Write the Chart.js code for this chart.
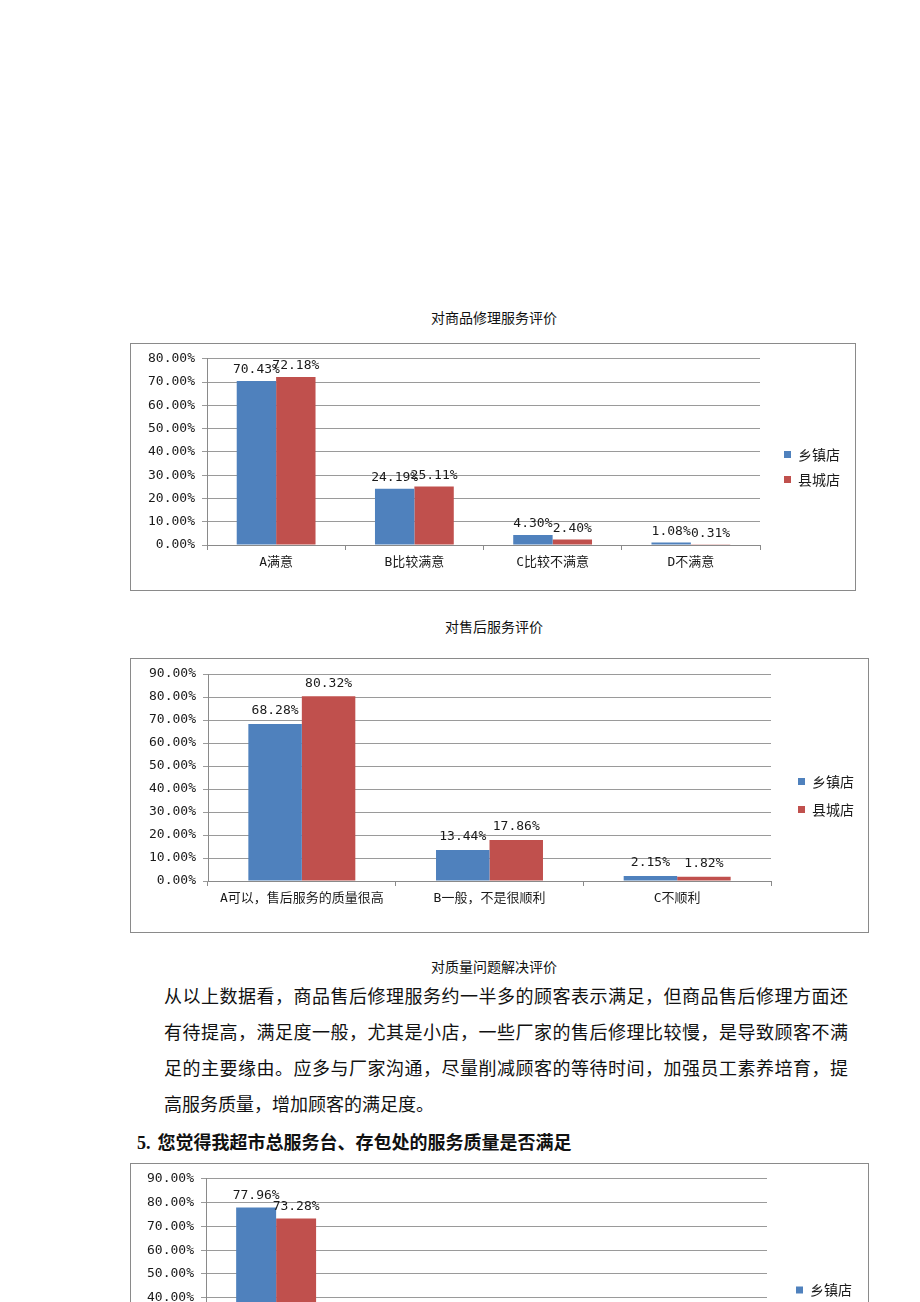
<!DOCTYPE html>
<html>
<head>
<meta charset="utf-8">
<script src="https://cdn.jsdelivr.net/npm/chart.js@4.4.0/dist/chart.umd.min.js"></script>
<style>
body { margin: 0; background: #fff; }
#page { position: relative; width: 920px; height: 1302px; overflow: hidden; background: #fff; font-family: "Noto Sans CJK SC", sans-serif; color: #111; }
.title { position: absolute; left: 0; width: 988px; text-align: center; font-size: 14px; line-height: 20px; }
.box { position: absolute; left: 130px; border: 1px solid #8a8a8a; }
.box canvas { display: block; }
.line { position: absolute; left: 164px; width: 684px; font-size: 18px; line-height: 24px; text-align: justify; text-align-last: justify; white-space: nowrap; }
.head { position: absolute; left: 137px; top: 1129px; font-size: 18px; line-height: 24px; font-weight: bold; }
.head b { font-family: "Liberation Serif", serif; margin-right: 7px; }
</style>
</head>
<body>
<div id="page">
	<div class="title" style="top:307px">对商品修理服务评价</div>
	<div class="box" style="top:343px;width:724px;height:246px"><canvas id="c1" width="724" height="246"></canvas></div>

	<div class="title" style="top:616px">对售后服务评价</div>
	<div class="box" style="top:658px;width:737px;height:273px"><canvas id="c2" width="737" height="273"></canvas></div>

	<div class="title" style="top:956px">对质量问题解决评价</div>
	<div class="line" style="top:983px">从以上数据看，商品售后修理服务约一半多的顾客表示满足，但商品售后修理方面还</div>
	<div class="line" style="top:1019px">有待提高，满足度一般，尤其是小店，一些厂家的售后修理比较慢，是导致顾客不满</div>
	<div class="line" style="top:1055px">足的主要缘由。应多与厂家沟通，尽量削减顾客的等待时间，加强员工素养培育，提</div>
	<div class="line" style="top:1091px;text-align-last:left;width:auto">高服务质量，增加顾客的满足度。</div>
	<div class="head"><b>5.</b>您觉得我超市总服务台、存包处的服务质量是否满足</div>
	<div class="box" style="top:1163px;width:737px;height:280px"><canvas id="c3" width="737" height="280"></canvas></div>
</div>
<script>
var seriesNames = ['乡镇店', '县城店']
var colors = ['#4F81BD', '#C0504D']

var repairCats = ['A满意', 'B比较满意', 'C比较不满意', 'D不满意']
var repairTown = [70.43, 24.19, 4.30, 1.08]
var repairCounty = [72.18, 25.11, 2.40, 0.31]
var repairTicks = [0, 10, 20, 30, 40, 50, 60, 70, 80]

var afterCats = ['A可以，售后服务的质量很高', 'B一般，不是很顺利', 'C不顺利']
var afterTown = [68.28, 13.44, 2.15]
var afterCounty = [80.32, 17.86, 1.82]
var afterTicks = [0, 10, 20, 30, 40, 50, 60, 70, 80, 90]

var deskCats = ['A满意', 'B比较满意', 'C比较不满意', 'D不满意']
var deskTown = [77.96, 19.35, 2.15, 0.54]
var deskCounty = [73.28, 24.05, 2.13, 0.54]
var deskTicks = [0, 10, 20, 30, 40, 50, 60, 70, 80, 90]

Chart.defaults.font.family = '"DejaVu Sans Mono", "Noto Sans CJK SC", monospace'
Chart.defaults.font.size = 13
Chart.defaults.color = '#1a1a1a'

var valueLabels = {
	id: 'valueLabels',
	afterDatasetsDraw: function(chart, args, opts) {
		var ctx = chart.ctx
		ctx.save()
		ctx.font = '13px "DejaVu Sans Mono", "Noto Sans CJK SC", monospace'
		ctx.fillStyle = '#1a1a1a'
		ctx.textAlign = 'center'
		ctx.textBaseline = 'middle'
		chart.data.datasets.forEach(function(ds, i) {
			chart.getDatasetMeta(i).data.forEach(function(bar, j) {
				ctx.fillText(ds.data[j].toFixed(2) + '%', bar.x, bar.y - opts.offset)
			})
		})
		ctx.restore()
	}
}

function createChart(id, cats, town, county, ticks, lay) {
	var ctx = document.getElementById(id).getContext('2d')
	return new Chart(ctx, {
		type: 'bar',
		data: {
			labels: cats,
			datasets: [
				{ label: seriesNames[0], data: town, backgroundColor: colors[0] },
				{ label: seriesNames[1], data: county, backgroundColor: colors[1] }
			]
		},
		plugins: [valueLabels],
		options: {
			responsive: false,
			animation: false,
			events: [],
			categoryPercentage: 0.57,
			barPercentage: 1.0,
			layout: { padding: { left: 0, top: 0, bottom: 0, right: lay.right } },
			plugins: {
				title: { display: false },
				tooltip: { enabled: false },
				valueLabels: { offset: lay.labelOffset },
				legend: {
					position: 'right',
					labels: {
						boxWidth: 7,
						boxHeight: 7,
						padding: lay.legendPad,
						font: { size: 14, family: '"Noto Sans CJK SC", sans-serif' }
					}
				}
			},
			scales: {
				x: {
					grid: { drawOnChartArea: false, tickLength: 5, color: '#8a8a8a' },
					border: { color: '#8a8a8a' },
					ticks: { padding: 5, maxRotation: 0, autoSkip: false, font: { size: 13 } },
					afterFit: function(s) { s.height = lay.xHeight }
				},
				y: {
					min: 0,
					max: ticks[ticks.length - 1],
					afterBuildTicks: function(s) { s.ticks = ticks.map(function(v) { return { value: v } }) },
					grid: { color: '#9a9a9a', tickLength: 5 },
					border: { color: '#8a8a8a' },
					ticks: { padding: 7, callback: function(v) { return v.toFixed(2) + '%' } },
					afterFit: function(s) { s.width = lay.yWidth }
				},
				topGap: {
					type: 'linear', position: 'top', display: true,
					grid: { display: false }, border: { display: false }, ticks: { display: false },
					afterFit: function(s) { s.height = lay.top }
				},
				rightGap: {
					type: 'linear', position: 'right', display: true,
					grid: { display: false }, border: { display: false }, ticks: { display: false },
					afterFit: function(s) { s.width = lay.gap }
				}
			}
		}
	})
}

createChart('c1', repairCats, repairTown, repairCounty, repairTicks,
	{ yWidth: 76, top: 14, xHeight: 45, gap: 13, right: 5, legendPad: 11, labelOffset: 11 })
createChart('c2', afterCats, afterTown, afterCounty, afterTicks,
	{ yWidth: 77, top: 15, xHeight: 51, gap: 13, right: 4, legendPad: 14, labelOffset: 13 })
createChart('c3', deskCats, deskTown, deskCounty, deskTicks,
	{ yWidth: 75, top: 14, xHeight: 51, gap: 15, right: 6, legendPad: 14, labelOffset: 12 })
</script>
</body>
</html>
